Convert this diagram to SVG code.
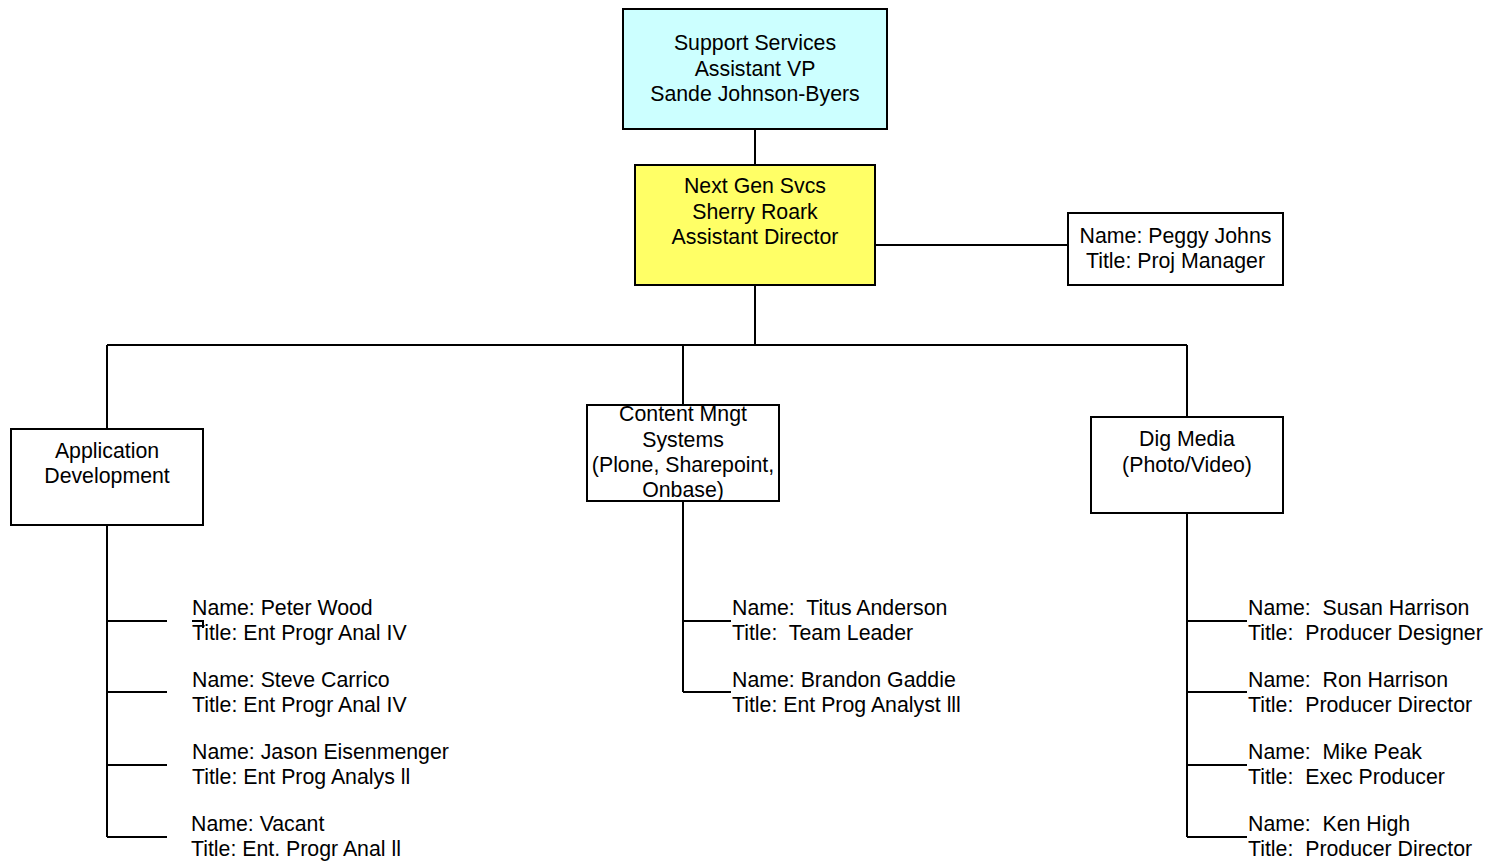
<svg xmlns="http://www.w3.org/2000/svg" width="1489" height="863" viewBox="0 0 1489 863">
<style>
.box{stroke:#000;stroke-width:2;fill:#fff}
.ln{stroke:#000;stroke-width:2;fill:none}
text{font-family:"Liberation Sans",Arial,sans-serif;font-size:21.3px;fill:#000}
.c{text-anchor:middle}
</style>
<rect width="1489" height="863" fill="#fff"/>
<g id="connectors">
<path class="ln" d="M755 129V165M875 245H1068M755 285V345M107 345H1187M107 345V429M683 345V405M1187 345V417"/>
<path class="ln" d="M107 525V837M107 621H167M107 692H167M107 765H167M107 837H167"/>
<path class="ln" d="M192 621H203V628"/>
<path class="ln" d="M683 501V692M683 621H731M683 692H731"/>
<path class="ln" d="M1187 513V837M1187 621H1247M1187 692H1247M1187 765H1247M1187 837H1247"/>
</g>
<g id="support-services">
<rect class="box" x="623" y="9" width="264" height="120" fill="#CCFFFF" style="fill:#CCFFFF"/>
<text class="c" x="755" y="50">Support Services</text>
<text class="c" x="755" y="75.5">Assistant VP</text>
<text class="c" x="755" y="101">Sande Johnson-Byers</text>
</g>
<g id="next-gen">
<rect class="box" x="635" y="165" width="240" height="120" style="fill:#FFFF66"/>
<text class="c" x="755" y="193">Next Gen Svcs</text>
<text class="c" x="755" y="219">Sherry Roark</text>
<text class="c" x="755" y="244">Assistant Director</text>
</g>
<g id="peggy">
<rect class="box" x="1068" y="213" width="215" height="72"/>
<text class="c" x="1175.5" y="243">Name: Peggy Johns</text>
<text class="c" x="1175.5" y="268">Title: Proj Manager</text>
</g>
<g id="app-dev">
<rect class="box" x="11" y="429" width="192" height="96"/>
<text class="c" x="107" y="458">Application</text>
<text class="c" x="107" y="483">Development</text>
</g>
<g id="content-mgmt">
<rect class="box" x="587" y="405" width="192" height="96"/>
<text class="c" x="683" y="421">Content Mngt</text>
<text class="c" x="683" y="447">Systems</text>
<text class="c" x="683" y="472">(Plone, Sharepoint,</text>
<text class="c" x="683" y="497">Onbase)</text>
</g>
<g id="dig-media">
<rect class="box" x="1091" y="417" width="192" height="96"/>
<text class="c" x="1187" y="446">Dig Media</text>
<text class="c" x="1187" y="472">(Photo/Video)</text>
</g>
<g id="peter-wood"><text x="192" y="615">Name: Peter Wood</text><text x="192" y="640">Title: Ent Progr Anal IV</text></g>
<g id="steve-carrico"><text x="192" y="687">Name: Steve Carrico</text><text x="192" y="712">Title: Ent Progr Anal IV</text></g>
<g id="jason-eisenmenger"><text x="192" y="759">Name: Jason Eisenmenger</text><text x="192" y="784">Title: Ent Prog Analys ll</text></g>
<g id="vacant"><text x="191" y="831">Name: Vacant</text><text x="191" y="856">Title: Ent. Progr Anal ll</text></g>
<g id="titus-anderson"><text x="732" y="615" xml:space="preserve">Name:  Titus Anderson</text><text x="732" y="640" xml:space="preserve">Title:  Team Leader</text></g>
<g id="brandon-gaddie"><text x="732" y="687">Name: Brandon Gaddie</text><text x="732" y="712">Title: Ent Prog Analyst lll</text></g>
<g id="susan-harrison"><text x="1248" y="615" xml:space="preserve">Name:  Susan Harrison</text><text x="1248" y="640" xml:space="preserve">Title:  Producer Designer</text></g>
<g id="ron-harrison"><text x="1248" y="687" xml:space="preserve">Name:  Ron Harrison</text><text x="1248" y="712" xml:space="preserve">Title:  Producer Director</text></g>
<g id="mike-peak"><text x="1248" y="759" xml:space="preserve">Name:  Mike Peak</text><text x="1248" y="784" xml:space="preserve">Title:  Exec Producer</text></g>
<g id="ken-high"><text x="1248" y="831" xml:space="preserve">Name:  Ken High</text><text x="1248" y="856" xml:space="preserve">Title:  Producer Director</text></g>
</svg>
